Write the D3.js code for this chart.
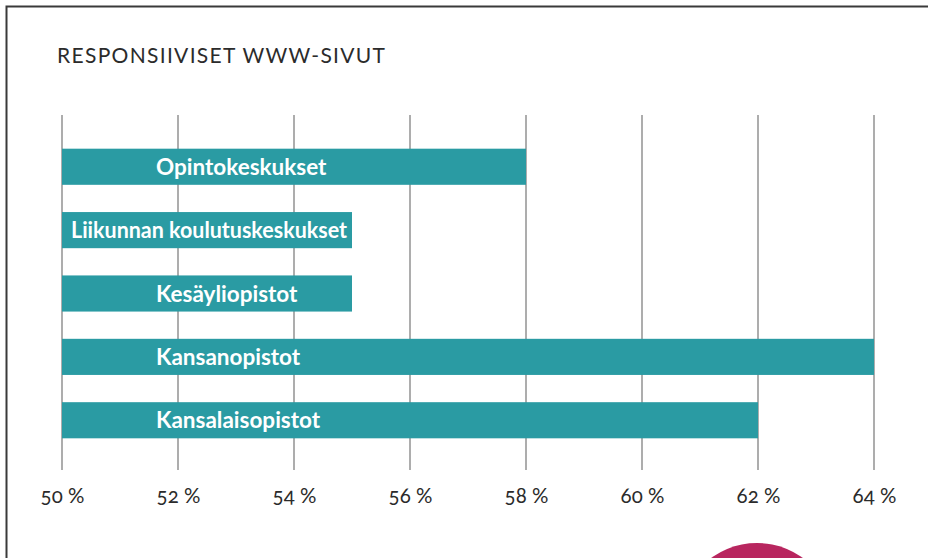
<!DOCTYPE html>
<html><head><meta charset="utf-8">
<script src="https://cdn.jsdelivr.net/npm/d3@7"></script>
<style>
html,body{margin:0;padding:0;background:#fff;}
svg{display:block;}
</style></head>
<body>
<script>
const title = "RESPONSIIVISET WWW-SIVUT";
const categories = ["Opintokeskukset","Liikunnan koulutuskeskukset","Kesäyliopistot","Kansanopistot","Kansalaisopistot"];
const values = [58, 55, 55, 64, 62];
const ticks = [50, 52, 54, 56, 58, 60, 62, 64];
const tickLabels = ["50 %","52 %","54 %","56 %","58 %","60 %","62 %","64 %"];

const W = 928, H = 558;
const svg = d3.select("body").append("svg").attr("width", W).attr("height", H);

// frame
svg.append("path").attr("d", "M6.5,558 V6.5 H928").attr("fill","none").attr("stroke","#3a3a3a").attr("stroke-width",2);

// decorative circle
svg.append("circle").attr("cx",757).attr("cy",621).attr("r",78).attr("fill","#b8265f");

svg.append("text").attr("x",57).attr("y",63).text(title)
  .attr("font-family","Lato, 'Open Sans', sans-serif").attr("font-weight",400)
  .attr("font-size",21).attr("textLength",328).attr("lengthAdjust","spacing").attr("fill","#2b2b2b");

const x = d3.scaleLinear().domain([50,64]).range([62,874]);
const y = d3.scaleBand().domain(categories).range([117,470]).paddingInner(0.43).paddingOuter(0.5);

// gridlines
svg.append("g").selectAll("line").data(ticks).join("line")
  .attr("x1",d=>x(d)).attr("x2",d=>x(d)).attr("y1",115).attr("y2",470)
  .attr("stroke","#8a8a8a").attr("stroke-width",1.4);

// axis labels
const axis = d3.axisBottom(x).tickValues(ticks).tickFormat((d,i)=>tickLabels[i]).tickSize(0).tickPadding(0);
const ag = svg.append("g").attr("transform","translate(0,488)").call(axis);
ag.select(".domain").remove();
ag.selectAll("text").attr("font-family","Lato, sans-serif").attr("font-size",20.5)
  .attr("fill","#2b2b2b").style("font-variant-numeric","oldstyle-nums");

const data = categories.map((c,i)=>({c, v: values[i]}));
svg.append("g").selectAll("rect").data(data).join("rect")
  .attr("x", x(50)).attr("y", d=>y(d.c)).attr("width", d=>x(d.v)-x(50)).attr("height", y.bandwidth())
  .attr("fill","#2a9ba3");

const lbl = svg.append("g").selectAll("text").data(data).join("text")
  .attr("y", d=>y(d.c)+y.bandwidth()/2).attr("dy","0.36em")
  .text(d=>d.c)
  .attr("font-family","Lato, sans-serif").attr("font-weight",700)
  .attr("font-size",22.5).attr("fill","#fff");
lbl.attr("x", function(d){
  const w = this.getComputedTextLength();
  const bw = x(d.v)-x(50);
  return (w + 94 + 4 > bw) ? x(50)+9 : x(50)+94;
}).each(function(d){
  const w = this.getComputedTextLength();
  const bw = x(d.v)-x(50);
  if (w + 15 > bw) d3.select(this).attr("textLength", 276).attr("lengthAdjust","spacingAndGlyphs");
});
</script>
</body></html>
